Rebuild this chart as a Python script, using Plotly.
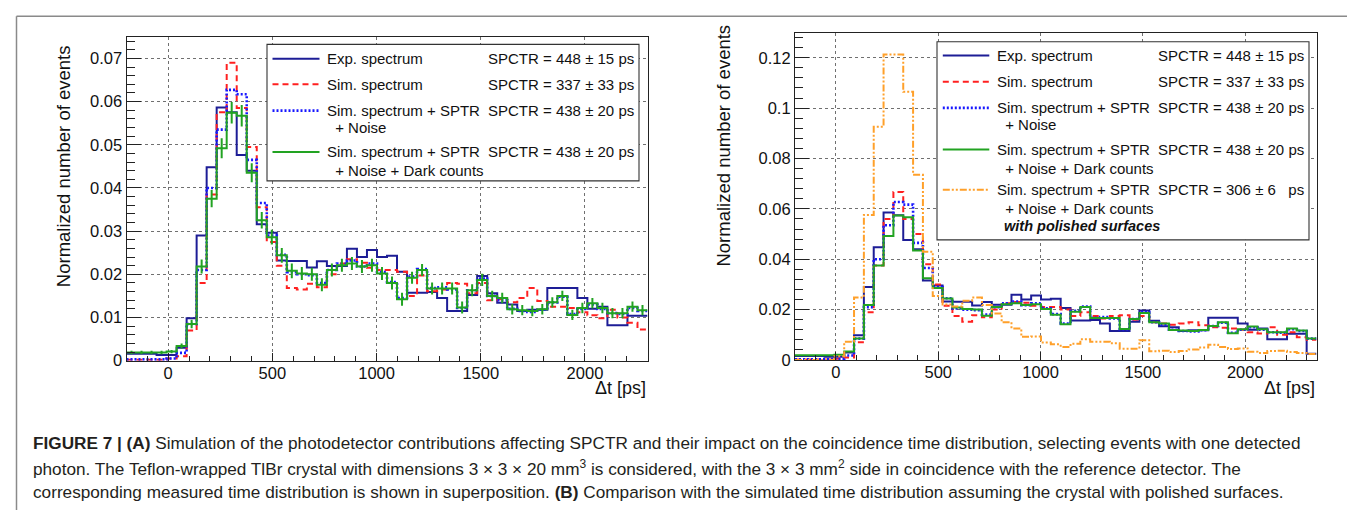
import numpy as np
import plotly.graph_objects as go

# ---------------- data ----------------
BIN_START = -200.0
BIN_WIDTH = 2500.0 / 52          # same binning in both panels
N_LEFT = 52                      # panel A shows -200 .. 2300 ps
N_RIGHT = 53                     # panel B shows one more bin

exp_spectrum = [0.0016, 0.0016, 0.0016, 0.0013, 0.0013, 0.0030, 0.0098, 0.0290, 0.0448, 0.0586,
                0.0575, 0.0476, 0.0440, 0.0316, 0.0296, 0.0232, 0.0231, 0.0231, 0.0216, 0.0230,
                0.0219, 0.0219, 0.0259, 0.0240, 0.0256, 0.0240, 0.0243, 0.0206, 0.0157, 0.0157,
                0.0159, 0.0145, 0.0115, 0.0115, 0.0152, 0.0196, 0.0156, 0.0134, 0.0130, 0.0115,
                0.0118, 0.0118, 0.0168, 0.0168, 0.0168, 0.0145, 0.0120, 0.0125, 0.0082, 0.0082,
                0.0104, 0.0104, 0.0025]

sim_spectrum_a = [0.0002, 0.0002, 0.0002, 0.0002, 0.0005, 0.0010, 0.0070, 0.0180, 0.0385, 0.0575,
                  0.0690, 0.0585, 0.0495, 0.0355, 0.0275, 0.0220, 0.0168, 0.0165, 0.0178, 0.0170,
                  0.0200, 0.0225, 0.0235, 0.0227, 0.0215, 0.0210, 0.0210, 0.0206, 0.0150, 0.0197,
                  0.0161, 0.0165, 0.0180, 0.0178, 0.0156, 0.0180, 0.0140, 0.0142, 0.0135, 0.0145,
                  0.0168, 0.0138, 0.0125, 0.0125, 0.0122, 0.0112, 0.0105, 0.0098, 0.0118, 0.0100,
                  0.0088, 0.0072, 0.0080]

sim_spectrum_b = [0.0002, 0.0002, 0.0002, 0.0002, 0.0005, 0.0010, 0.0070, 0.0190, 0.0375, 0.0560,
                  0.0667, 0.0560, 0.0500, 0.0380, 0.0300, 0.0215, 0.0175, 0.0152, 0.0178, 0.0170,
                  0.0200, 0.0225, 0.0230, 0.0227, 0.0215, 0.0210, 0.0210, 0.0200, 0.0175, 0.0190,
                  0.0175, 0.0165, 0.0175, 0.0178, 0.0160, 0.0175, 0.0150, 0.0145, 0.0140, 0.0145,
                  0.0150, 0.0138, 0.0130, 0.0128, 0.0125, 0.0120, 0.0110, 0.0105, 0.0130, 0.0100,
                  0.0110, 0.0090, 0.0080]

sim_sptr_noise = [0.0003, 0.0003, 0.0003, 0.0003, 0.0005, 0.0018, 0.0085, 0.0210, 0.0400, 0.0535,
                  0.0627, 0.0617, 0.0465, 0.0365, 0.0290, 0.0245, 0.0205, 0.0200, 0.0198, 0.0180,
                  0.0210, 0.0225, 0.0232, 0.0218, 0.0225, 0.0205, 0.0182, 0.0145, 0.0195, 0.0212,
                  0.0168, 0.0170, 0.0165, 0.0122, 0.0163, 0.0190, 0.0150, 0.0140, 0.0120, 0.0115,
                  0.0113, 0.0118, 0.0135, 0.0148, 0.0108, 0.0120, 0.0130, 0.0120, 0.0110, 0.0108,
                  0.0122, 0.0115, 0.0085]

sim_sptr_noise_dark = [0.0019, 0.0019, 0.0019, 0.0019, 0.0021, 0.0034, 0.0085, 0.0218, 0.0375, 0.0492,
                       0.0574, 0.0567, 0.0435, 0.0325, 0.0286, 0.0244, 0.0208, 0.0202, 0.0200, 0.0176,
                       0.0210, 0.0221, 0.0225, 0.0218, 0.0221, 0.0202, 0.0180, 0.0142, 0.0192, 0.0210,
                       0.0167, 0.0167, 0.0167, 0.0123, 0.0163, 0.0187, 0.0150, 0.0145, 0.0119, 0.0117,
                       0.0115, 0.0119, 0.0135, 0.0150, 0.0106, 0.0122, 0.0133, 0.0122, 0.0110, 0.0110,
                       0.0125, 0.0117, 0.0085]

sim_dark_err = [0.0004, 0.0004, 0.0004, 0.0004, 0.0004, 0.0006, 0.0010, 0.0016, 0.0020, 0.0023,
                0.0025, 0.0025, 0.0022, 0.0019, 0.0017, 0.0017, 0.0017, 0.0015, 0.0015, 0.0015,
                0.0015, 0.0015, 0.0015, 0.0015, 0.0015, 0.0015, 0.0015, 0.0015, 0.0014, 0.0014,
                0.0014, 0.0014, 0.0014, 0.0014, 0.0014, 0.0014, 0.0012, 0.0012, 0.0012, 0.0012,
                0.0012, 0.0012, 0.0012, 0.0012, 0.0012, 0.0012, 0.0012, 0.0012, 0.0012, 0.0012,
                0.0012, 0.0012]

sim_polished = [0.0000, 0.0000, 0.0000, 0.0000, 0.0015, 0.0072, 0.0248, 0.0576, 0.0926, 0.1213,
                0.1213, 0.1065, 0.0735, 0.0430, 0.0254, 0.0220, 0.0212, 0.0235, 0.0248, 0.0218,
                0.0185, 0.0150, 0.0125, 0.0092, 0.0093, 0.0069, 0.0062, 0.0052, 0.0064, 0.0082,
                0.0072, 0.0072, 0.0066, 0.0045, 0.0045, 0.0078, 0.0035, 0.0037, 0.0032, 0.0036,
                0.0042, 0.0050, 0.0061, 0.0052, 0.0044, 0.0046, 0.0033, 0.0028, 0.0036, 0.0037,
                0.0032, 0.0028, 0.0024]

legend_names = ["Exp. spectrum", "Sim. spectrum", "Sim. spectrum + SPTR", "Sim. spectrum + SPTR",
                "Sim. spectrum + SPTR"]
legend_second = ["", "", " + Noise", " + Noise + Dark counts", " + Noise + Dark counts"]
spctr_text = ["SPCTR = 448 ± 15 ps", "SPCTR = 337 ± 33 ps", "SPCTR = 438 ± 20 ps",
              "SPCTR = 438 ± 20 ps", "SPCTR = 306 ± 6 \u00a0 ps"]

# ---------------- styles ----------------
W, H = 1355, 511
FONT = "Liberation Sans, Arial, Helvetica, sans-serif"
C_EXP = "#1d1d96"
C_SIM = "#ff2020"
C_NOISE = "#1818ff"
C_DARK = "#22a322"
C_POL = "#ffa02a"
DASH_SIM = "6px,4px"
DASH_NOISE = "2px,2px"
DASH_POL = "7px,2px,2px,2px,2px,2px"


def px(x):
    return x / W


def py(y):
    return 1 - y / H


def step(values):
    edges = BIN_START + BIN_WIDTH * np.arange(len(values) + 1)
    return edges, list(values) + [values[-1]]


fig = go.Figure()


def add_hist(values, color, dash, xa, ya, width=2.0):
    x, y = step(values)
    fig.add_trace(go.Scatter(x=x, y=y, mode="lines", line_shape="hv",
                             line=dict(color=color, width=width, dash=dash),
                             xaxis=xa, yaxis=ya, showlegend=False, hoverinfo="skip"))


# Panel A
add_hist(exp_spectrum[:N_LEFT], C_EXP, "solid", "x", "y")
add_hist(sim_spectrum_a[:N_LEFT], C_SIM, DASH_SIM, "x", "y")
add_hist(sim_sptr_noise[:N_LEFT], C_NOISE, DASH_NOISE, "x", "y", 2.6)
add_hist(sim_sptr_noise_dark[:N_LEFT], C_DARK, "solid", "x", "y")
centers = BIN_START + BIN_WIDTH * (np.arange(N_LEFT) + 0.5)
fig.add_trace(go.Scatter(x=centers, y=sim_sptr_noise_dark[:N_LEFT], mode="markers",
                         marker=dict(size=1, color=C_DARK),
                         error_y=dict(type="data", array=sim_dark_err[:N_LEFT], color=C_DARK,
                                      thickness=2, width=0),
                         xaxis="x", yaxis="y", showlegend=False, hoverinfo="skip"))

# Panel B
add_hist(exp_spectrum[:N_RIGHT], C_EXP, "solid", "x2", "y2")
add_hist(sim_spectrum_b[:N_RIGHT], C_SIM, DASH_SIM, "x2", "y2")
add_hist(sim_sptr_noise[:N_RIGHT], C_NOISE, DASH_NOISE, "x2", "y2", 2.6)
add_hist(sim_sptr_noise_dark[:N_RIGHT], C_DARK, "solid", "x2", "y2")
add_hist(sim_polished[:N_RIGHT], C_POL, DASH_POL, "x2", "y2")

axis_common = dict(showline=True, linecolor="#222", linewidth=1.2, mirror=True,
                   ticks="inside", tickcolor="#222", tickwidth=1,
                   showgrid=True, gridcolor="#707070", griddash="dot", gridwidth=1,
                   zeroline=False, tickfont=dict(family=FONT, size=16.5, color="#111"))

xa = dict(axis_common, tick0=0, dtick=500, ticklen=8, ticklabelstandoff=-3,
          minor=dict(ticks="inside", ticklen=4.5, dtick=100, tick0=0, showgrid=False, tickcolor="#222"))

fig.update_layout(
    width=W, height=H, margin=dict(l=0, r=0, t=0, b=0),
    paper_bgcolor="white", plot_bgcolor="white", showlegend=False,
    xaxis=dict(xa, domain=[px(118.5), px(639.5)], range=[BIN_START, BIN_START + BIN_WIDTH * N_LEFT],
               anchor="y"),
    yaxis=dict(axis_common, domain=[py(359), py(29.3)], range=[0, 0.075], anchor="x",
               tickvals=[0, 0.01, 0.02, 0.03, 0.04, 0.05, 0.06, 0.07],
               ticktext=["0", "0.01", "0.02", "0.03", "0.04", "0.05", "0.06", "0.07"],
               ticklen=14,
               minor=dict(ticks="inside", ticklen=8, dtick=0.002, tick0=0, showgrid=False, tickcolor="#222")),
    xaxis2=dict(xa, domain=[px(787), px(1308.5)], range=[BIN_START, BIN_START + BIN_WIDTH * N_RIGHT],
                anchor="y2"),
    yaxis2=dict(axis_common, domain=[py(358.3), py(25)], range=[0, 0.13], anchor="x2",
                tickvals=[0, 0.02, 0.04, 0.06, 0.08, 0.1, 0.12],
                ticktext=["0", "0.02", "0.04", "0.06", "0.08", "0.1", "0.12"],
                ticklen=14,
                minor=dict(ticks="inside", ticklen=8, dtick=0.004, tick0=0, showgrid=False, tickcolor="#222")),
)

shapes = []
annotations = []

# outer frame of the figure
shapes.append(dict(type="line", xref="paper", yref="paper", x0=px(8.5), x1=1, y0=py(8.5), y1=py(8.5),
                   line=dict(color="#8a8a8a", width=1.5)))
shapes.append(dict(type="line", xref="paper", yref="paper", x0=px(8.5), x1=px(8.5), y0=py(8.5), y1=0,
                   line=dict(color="#8a8a8a", width=1.5)))


def txt(x, y, s, size=15, anchor="left", angle=0, color="#111"):
    annotations.append(dict(xref="paper", yref="paper", x=px(x), y=py(y), text=s, showarrow=False,
                            xanchor=anchor, yanchor="middle", textangle=angle,
                            font=dict(family=FONT, size=size, color=color)))


def legend(box, line_x, text_x, col2_x, rows, entries):
    x0, x1, y0, y1 = box
    shapes.append(dict(type="rect", xref="paper", yref="paper", x0=px(x0), x1=px(x1), y0=py(y1), y1=py(y0),
                       fillcolor="white", line=dict(color="#333", width=1.1), layer="above"))
    for (color, dash, lw), (yr, yr2), name, second, spctr in zip(entries, rows, legend_names,
                                                                 legend_second, spctr_text):
        shapes.append(dict(type="line", xref="paper", yref="paper", x0=px(line_x[0]), x1=px(line_x[1]),
                           y0=py(yr), y1=py(yr), line=dict(color=color, width=lw, dash=dash),
                           layer="above"))
        txt(text_x, yr, name)
        txt(col2_x, yr, spctr)
        if second:
            txt(text_x + 4, yr2, second)


entries = [(C_EXP, "solid", 2), (C_SIM, DASH_SIM, 2), (C_NOISE, DASH_NOISE, 2.6),
           (C_DARK, "solid", 2), (C_POL, DASH_POL, 2)]

# Panel A legend (first four entries)
legend((259, 631, 37, 176), (264.5, 311.5), 317, 478.3,
       [(51.7, None), (77.7, None), (104.5, 121.7), (146.5, 165.7)], entries[:4])
# Panel B legend (five entries)
legend((929, 1301, 34.3, 236), (934.8, 981.3), 986.5, 1148.4,
       [(48.3, None), (75, None), (101.7, 118.3), (144, 163), (185, 204)], entries)
txt(993.5, 222.3, "<b><i>with polished surfaces</i></b>", size=14.5)

# axis titles
txt(55, 161, "Normalized number of events", size=18.5, anchor="center", angle=-90)
txt(716, 140, "Normalized number of events", size=18.5, anchor="center", angle=-90)
txt(639.5, 386.7, "Δt [ps]", size=18, anchor="right")
txt(1308.5, 386.7, "Δt [ps]", size=18, anchor="right")

# caption
cap_color = "#231f20"
txt(23, 443, "<b>FIGURE 7 | (A)</b> Simulation of the photodetector contributions affecting SPCTR and their "
             "impact on the coincidence time distribution, selecting events with one detected",
    size=17.2, color=cap_color)
txt(23, 468, "photon. The Teflon-wrapped TlBr crystal with dimensions 3 × 3 × 20 mm<sup>3</sup> is considered, "
             "with the 3 × 3 mm<sup>2</sup> side in coincidence with the reference detector. The",
    size=17.2, color=cap_color)
txt(23, 493, "corresponding measured time distribution is shown in superposition. <b>(B)</b> Comparison with "
             "the simulated time distribution assuming the crystal with polished surfaces.",
    size=17.2, color=cap_color)

fig.update_layout(shapes=shapes, annotations=annotations)
fig.write_html("out.html")
